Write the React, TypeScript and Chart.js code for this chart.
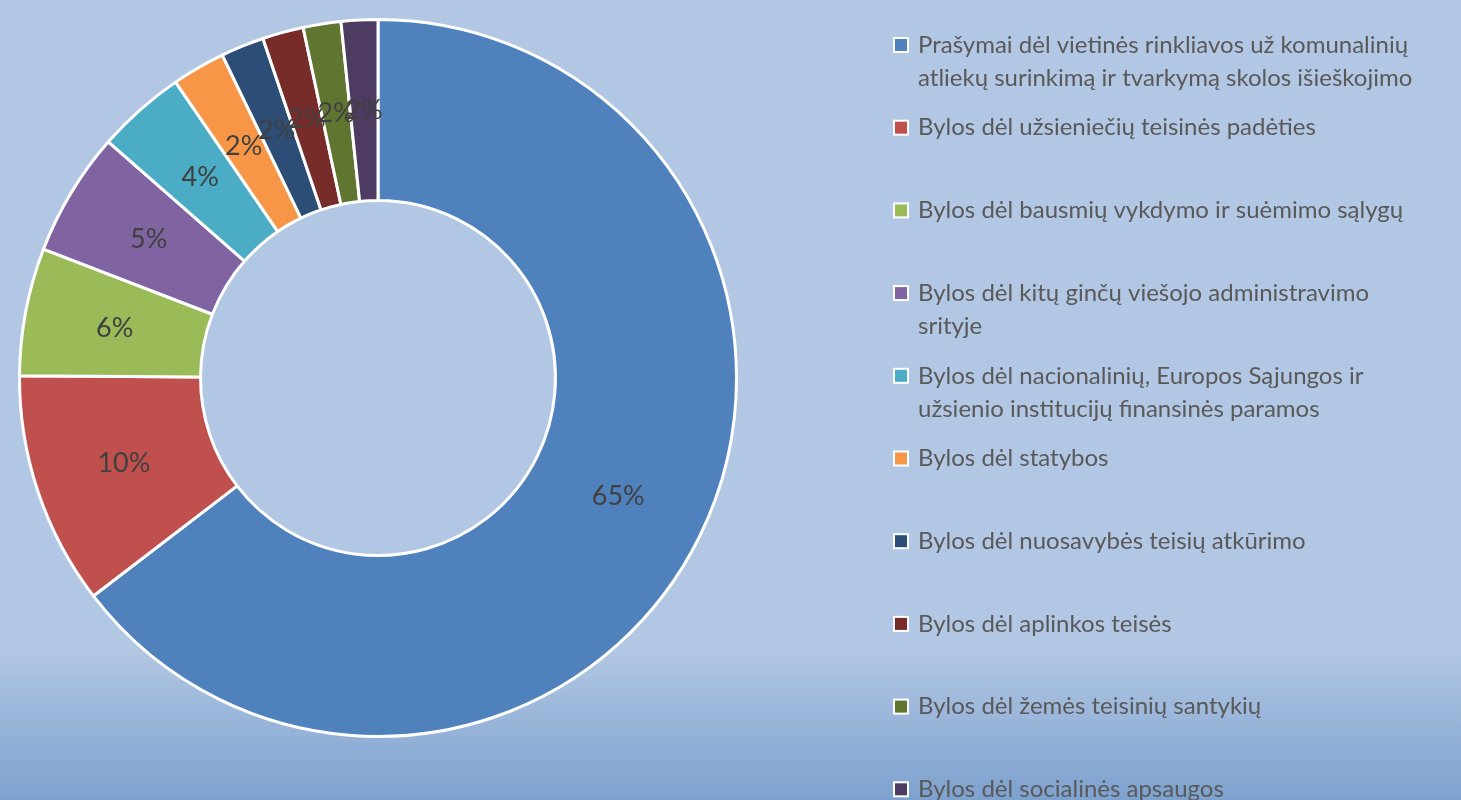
import React, { useEffect, useRef } from "react";
import { Chart, registerables } from "chart.js";

Chart.register(...registerables);

const categories: string[][] = [
  ["Prašymai dėl vietinės rinkliavos už komunalinių", "atliekų surinkimą ir tvarkymą skolos išieškojimo"],
  ["Bylos dėl užsieniečių teisinės padėties"],
  ["Bylos dėl bausmių vykdymo ir suėmimo sąlygų"],
  ["Bylos dėl kitų ginčų viešojo administravimo", "srityje"],
  ["Bylos dėl nacionalinių, Europos Sąjungos ir", "užsienio institucijų finansinės paramos"],
  ["Bylos dėl statybos"],
  ["Bylos dėl nuosavybės teisių atkūrimo"],
  ["Bylos dėl aplinkos teisės"],
  ["Bylos dėl žemės teisinių santykių"],
  ["Bylos dėl socialinės apsaugos"],
];

const shares: number[] = [64.6, 10.5, 5.75, 5.6, 4.0, 2.4, 1.95, 1.85, 1.7, 1.65];

const percentLabels: string[] = ["65%", "10%", "6%", "5%", "4%", "2%", "2%", "2%", "2%", "2%"];

const sliceColors: string[] = [
  "#4F81BD", "#C0504D", "#9BBB59", "#8064A2", "#4BACC6",
  "#F79646", "#2C4D75", "#772C2A", "#5F7530", "#4D3B62",
];

const FONT = "Lato, 'Liberation Sans', sans-serif";

const backgroundPlugin = {
  id: "bg",
  beforeDraw(chart: any) {
    const { ctx, width, height } = chart;
    ctx.save();
    ctx.fillStyle = "#B2C7E3";
    ctx.fillRect(0, 0, width, height);
    const g = ctx.createLinearGradient(0, 650, 0, height);
    g.addColorStop(0, "#B2C7E3");
    g.addColorStop(1, "#7DA1CE");
    ctx.fillStyle = g;
    ctx.fillRect(0, 650, width, height - 650);
    ctx.restore();
  },
};

const labelPlugin = {
  id: "pctLabels",
  afterDatasetsDraw(chart: any) {
    const { ctx } = chart;
    const meta = chart.getDatasetMeta(0);
    ctx.save();
    ctx.font = `27px ${FONT}`;
    ctx.fillStyle = "#404040";
    ctx.textAlign = "center";
    ctx.textBaseline = "middle";
    meta.data.forEach((arc: any, i: number) => {
      const p = arc.tooltipPosition();
      ctx.fillText(percentLabels[i], p.x, p.y);
    });
    ctx.restore();
  },
};

const legendPlugin = {
  id: "customLegend",
  afterDraw(chart: any) {
    const { ctx } = chart;
    const labels = chart.data.labels as string[][];
    const colors = chart.data.datasets[0].backgroundColor as string[];
    ctx.save();
    ctx.font = `24px ${FONT}`;
    ctx.textBaseline = "middle";
    ctx.textAlign = "left";
    const x0 = 893;
    const y0 = 45;
    const step = 82.7;
    const lineH = 33;
    labels.forEach((lines, i) => {
      const y = y0 + i * step;
      ctx.fillStyle = "#FFFFFF";
      ctx.fillRect(x0, y - 8, 16, 16);
      ctx.fillStyle = colors[i];
      ctx.fillRect(x0 + 2, y - 6, 12, 12);
      ctx.fillStyle = "#595959";
      lines.forEach((ln, j) => {
        ctx.fillText(ln, x0 + 25, y + j * lineH);
      });
    });
    ctx.restore();
  },
};

export default function App() {
  const ref = useRef<HTMLCanvasElement | null>(null);

  useEffect(() => {
    document.body.style.margin = "0";
    if (!ref.current) return;
    const chart = new Chart(ref.current, {
      type: "doughnut",
      data: {
        labels: categories as any,
        datasets: [
          {
            data: shares,
            backgroundColor: sliceColors,
            borderColor: "#FFFFFF",
            borderWidth: 3,
          },
        ],
      },
      options: {
        responsive: false,
        animation: false,
        cutout: "49.5%",
        layout: { padding: { left: 18, top: 18, right: 723, bottom: 62 } },
        plugins: {
          legend: { display: false },
          tooltip: { enabled: false },
        },
      },
      plugins: [backgroundPlugin, labelPlugin, legendPlugin],
    });
    return () => chart.destroy();
  }, []);

  return (
    <div style={{ width: 1461, height: 800 }}>
      <canvas ref={ref} width={1461} height={800} style={{ display: "block" }} />
    </div>
  );
}
